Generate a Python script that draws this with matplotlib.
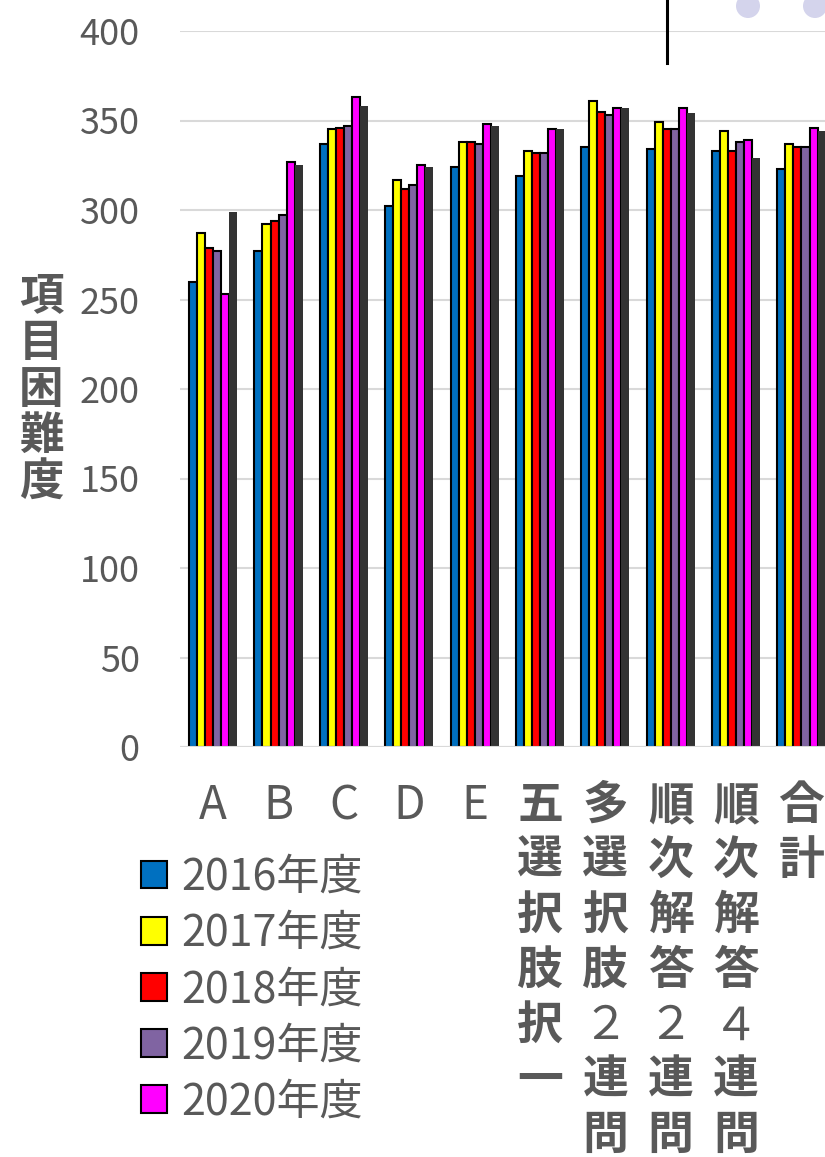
import numpy as np
import matplotlib
matplotlib.use("Agg")
import matplotlib.pyplot as plt
import matplotlib.transforms as mtransforms
from matplotlib.patches import Patch, Circle
from matplotlib.lines import Line2D

plt.rcParams['font.family'] = ['Noto Sans CJK JP', 'DejaVu Sans']

# データ
categories = ['A', 'B', 'C', 'D', 'E', '五選択肢択一', '多選択肢２連問', '順次解答２連問', '順次解答４連問', '合計']
years = ['2016年度', '2017年度', '2018年度', '2019年度', '2020年度', '']
y2016 = [260, 277, 337, 302, 324, 319, 335, 334, 333, 323]
y2017 = [287, 292, 345, 317, 338, 333, 361, 349, 344, 337]
y2018 = [279, 294, 346, 312, 338, 332, 355, 345, 333, 335]
y2019 = [277, 297, 347, 314, 337, 332, 353, 345, 338, 335]
y2020 = [253, 327, 363, 325, 348, 345, 357, 357, 339, 346]
y_otro = [299, 325, 358, 324, 347, 345, 357, 354, 329, 344]
yticks = [0, 50, 100, 150, 200, 250, 300, 350, 400]

series = [y2016, y2017, y2018, y2019, y2020, y_otro]
colores = ['#0070C0', '#FFFF00', '#FF0000', '#8064A2', '#FF00FF', '#333333']
gris = '#595959'

W, H = 825, 1157
fig = plt.figure(figsize=(W / 100, H / 100), dpi=100)
ax = fig.add_axes([180 / W, 1 - 747 / H, 1 - 180 / W, (747 - 31) / H])

x = np.arange(len(categories))
ancho = 0.123
for k, (vals, c) in enumerate(zip(series, colores)):
    off = (k - 2.5) * ancho
    if k < 5:
        ax.bar(x + off, vals, ancho, color=c, edgecolor='black', linewidth=1.5, zorder=3)
    else:
        ax.bar(x + off, vals, ancho, color=c, linewidth=0, zorder=3)

ax.set_ylim(0, 400)
ax.set_xlim(-0.508, 9.36)
ax.set_yticks(yticks)
ax.set_xticks([])
ax.tick_params(axis='y', length=0, pad=29, labelsize=26, labelcolor=gris)
ax.yaxis.grid(True, color='#D9D9D9', linewidth=1.5, zorder=0)
for s in ax.spines.values():
    s.set_visible(False)
ax.axhline(0, color='#D9D9D9', linewidth=1.5, zorder=4)

# etiquetas de categorías en vertical
trans = mtransforms.blended_transform_factory(ax.transData, fig.transFigure)
for i, cat in enumerate(categories):
    for j, ch in enumerate(cat):
        latino = ch.isascii() or ch in '２４'
        ax.text(i, 1 - (806 + 55 * j) / H, ch, transform=trans, ha='center', va='center',
                fontsize=33, color=gris, weight='normal' if latino else 'bold', clip_on=False)

# título del eje y en vertical
for j, ch in enumerate('項目困難度'):
    fig.text(41 / W, 1 - (296 + 46.8 * j) / H, ch, ha='center', va='center',
             fontsize=32, color=gris, weight='bold')

# leyenda
handles = [Patch(facecolor=c, edgecolor='black', linewidth=1.5) for c in colores[:5]]
fig.legend(handles, years[:5], loc='upper left', bbox_to_anchor=(141 / W, 1 - 856 / H),
           frameon=False, fontsize=31, labelcolor=gris, handlelength=0.6, handleheight=0.6,
           handletextpad=0.33, labelspacing=0.28, borderpad=0, borderaxespad=0)

# detalles del borde superior
fig.add_artist(Line2D([667 / W, 667 / W], [1, 1 - 63 / H], color='black', linewidth=2.2))
for cx in (748, 815):
    fig.add_artist(Circle((cx, H - 6), 12, transform=None, color='#D4D4EC', linewidth=0))

plt.savefig('out.png', dpi=100)
